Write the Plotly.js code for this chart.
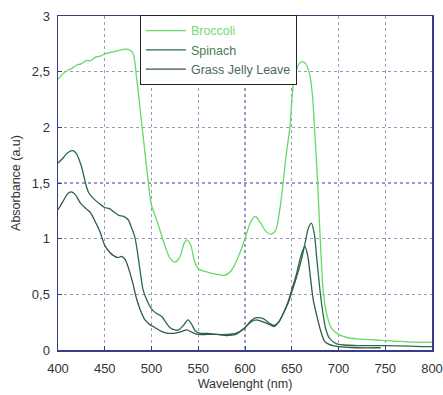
<!DOCTYPE html>
<html>
<head>
<meta charset="utf-8">
<script src="https://cdn.plot.ly/plotly-3.0.1.min.js"></script>
<style>html,body{margin:0;padding:0;background:#fff;}#chart{width:443px;height:395px;}</style>
</head>
<body>
<div id="chart"></div>
<script>
// Broccoli
const broccoliX = [400,405,410,415,420,425,430,435,440,445,450,455,460,465,470,475,480,484,488,492,496,500,505,510,515,520,525,530,535,538,542,546,550,560,570,578,585,592,600,606,611,616,622,628,633,637,640,644,648,652,657,661,665,669,672,675,678,681,684,688,693,700,710,720,740,760,780,800];
const broccoliY = [2.43,2.48,2.51,2.53,2.56,2.57,2.60,2.60,2.63,2.64,2.66,2.67,2.68,2.69,2.70,2.70,2.67,2.45,2.15,1.85,1.55,1.30,1.18,1.05,0.92,0.82,0.79,0.83,0.96,0.99,0.94,0.80,0.73,0.70,0.68,0.67,0.71,0.82,1.00,1.15,1.20,1.15,1.07,1.04,1.08,1.25,1.44,1.75,2.00,2.40,2.56,2.59,2.57,2.48,2.30,1.90,1.45,0.90,0.50,0.30,0.19,0.14,0.11,0.10,0.09,0.08,0.07,0.07];

// Spinach
const spinachX = [400,405,410,416,420,425,430,433,438,445,450,455,460,465,470,475,479,482,485,488,491,495,500,505,511,516,520,525,529,534,539,543,547,552,560,570,580,590,600,606,612,620,626,631,636,641,646,650,655,660,664,668,671,674,677,680,683,686,690,695,700,720,750,800];
const spinachY = [1.68,1.72,1.77,1.79,1.76,1.65,1.48,1.41,1.36,1.31,1.28,1.27,1.24,1.21,1.20,1.17,1.09,1.02,0.88,0.70,0.54,0.45,0.37,0.33,0.30,0.24,0.20,0.18,0.18,0.22,0.27,0.23,0.17,0.15,0.15,0.14,0.14,0.15,0.20,0.26,0.29,0.28,0.24,0.22,0.25,0.33,0.42,0.52,0.65,0.80,0.95,1.10,1.14,1.05,0.80,0.55,0.35,0.20,0.11,0.07,0.05,0.04,0.04,0.03];

// Grass Jelly Leave
const grassX = [400,405,410,414,418,424,430,435,440,445,450,455,459,464,468,472,476,480,484,488,493,498,504,510,518,524,530,538,543,550,560,570,580,590,600,606,612,620,626,631,636,641,646,650,655,660,664,667,670,673,677,681,685,690,700,720,745];
const grassY = [1.26,1.33,1.40,1.42,1.40,1.32,1.27,1.23,1.15,1.06,0.94,0.88,0.85,0.83,0.84,0.81,0.72,0.60,0.46,0.36,0.27,0.23,0.20,0.17,0.15,0.15,0.16,0.18,0.16,0.14,0.14,0.14,0.13,0.14,0.20,0.25,0.27,0.25,0.23,0.21,0.25,0.33,0.43,0.54,0.68,0.85,0.93,0.85,0.65,0.45,0.30,0.17,0.08,0.05,0.03,0.02,0.02];

const seriesNames = ["Broccoli","Spinach","Grass Jelly Leave"];
const xTitle = "Wavelenght (nm)";
const yTitle = "Absorbance (a.u)";

const colors = ["#66d966","#2a6b45","#33574a"];
const textColors = ["#77d977","#4a7a5a","#4a6a5a"];
const FONT = "Liberation Sans, Arial, sans-serif";

function tr(x,y,i){
  return {x:x,y:y,type:"scatter",mode:"lines",
    name:'<span style="color:'+textColors[i]+'">'+seriesNames[i]+'</span>',
    line:{color:colors[i],width:1.3,shape:"spline",smoothing:0.8},hoverinfo:"skip"};
}

const data = [tr(broccoliX,broccoliY,0),tr(spinachX,spinachY,1),tr(grassX,grassY,2)];

const axisCommon = {
  showline:true, linecolor:"#3a3a8a", linewidth:1.5, mirror:true,
  showgrid:true, gridcolor:"#9a9ac8", griddash:"dot", gridwidth:1.3,
  zeroline:false, ticks:"inside", ticklen:4, tickcolor:"#3a3a8a",
  tickfont:{family:FONT, size:13, color:"#333"}
};

const layout = {
  width:443, height:395,
  margin:{l:58,r:11,t:16,b:45},
  paper_bgcolor:"#fff", plot_bgcolor:"#fff",
  separators:",.",
  showlegend:true,
  legend:{x:0.219,y:1.003,xanchor:"left",yanchor:"top",
    bgcolor:"#fff",bordercolor:"#222",borderwidth:1,
    font:{family:FONT,size:12.5,color:"#4a7a5a"},
    tracegroupgap:0, itemwidth:40},
  xaxis:Object.assign({}, axisCommon, {range:[400,800], dtick:50, tick0:400,
    ticklabelstandoff:6,
    title:{text:xTitle, font:{family:FONT,size:12.5,color:"#333"}, standoff:4}}),
  yaxis:Object.assign({}, axisCommon, {range:[0,3], dtick:0.5, tick0:0,
    ticklabelstandoff:4,
    title:{text:yTitle, font:{family:FONT,size:12.5,color:"#333"}, standoff:8}})
};

Plotly.newPlot("chart", data, layout, {displayModeBar:false, staticPlot:true});
</script>
</body>
</html>
